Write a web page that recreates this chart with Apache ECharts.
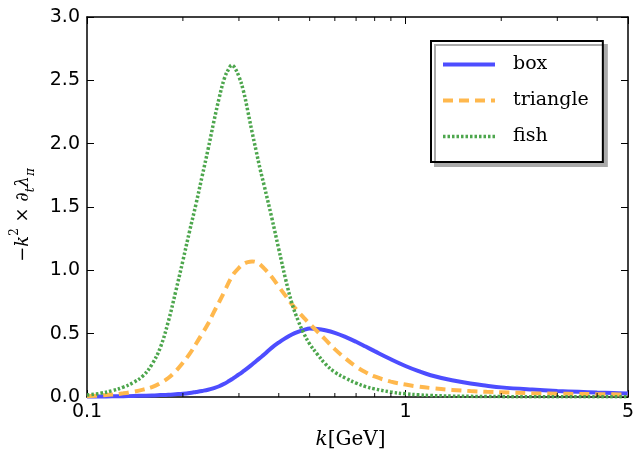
<!DOCTYPE html>
<html>
<head>
<meta charset="utf-8">
<script src="https://cdn.jsdelivr.net/npm/echarts@6/dist/echarts.min.js"></script>
<style>
html,body{margin:0;padding:0;background:#fff;}
#chart{width:641px;height:457px;}
</style>
</head>
<body>
<div id="chart"></div>
<script>
// k values (GeV) shared by all series
var kValues = [0.1,0.11,0.12,0.13,0.14,0.15,0.16,0.17,0.18,0.19,0.2,0.21,0.22,0.23,0.24,0.25,0.26,0.27,0.28,0.285,0.29,0.3,0.31,0.32,0.33,0.34,0.35,0.36,0.38,0.4,0.42,0.44,0.46,0.48,0.5,0.53,0.56,0.6,0.65,0.7,0.75,0.8,0.9,1.0,1.1,1.2,1.4,1.6,1.8,2.0,2.5,3.0,3.5,4.0,4.5,5.0];
var boxValues = [0.003,0.004,0.005,0.006,0.008,0.010,0.012,0.015,0.018,0.022,0.026,0.032,0.040,0.048,0.057,0.070,0.085,0.105,0.128,0.140,0.153,0.178,0.204,0.230,0.257,0.284,0.310,0.335,0.388,0.430,0.465,0.494,0.515,0.530,0.540,0.537,0.527,0.507,0.473,0.436,0.398,0.362,0.298,0.245,0.204,0.172,0.132,0.106,0.089,0.076,0.059,0.048,0.041,0.035,0.031,0.028];
var triangleValues = [0.005,0.012,0.019,0.029,0.042,0.058,0.078,0.110,0.150,0.205,0.270,0.340,0.420,0.500,0.578,0.668,0.750,0.832,0.915,0.950,0.978,1.020,1.050,1.065,1.070,1.065,1.045,1.015,0.950,0.872,0.800,0.733,0.676,0.625,0.578,0.515,0.455,0.378,0.302,0.240,0.195,0.162,0.121,0.098,0.082,0.071,0.056,0.047,0.041,0.037,0.030,0.026,0.024,0.022,0.021,0.020];
var fishValues = [0.015,0.029,0.050,0.078,0.115,0.168,0.258,0.392,0.595,0.835,1.075,1.310,1.525,1.745,1.955,2.170,2.360,2.515,2.600,2.620,2.605,2.530,2.415,2.255,2.090,1.940,1.795,1.670,1.420,1.170,0.935,0.740,0.605,0.500,0.420,0.335,0.262,0.196,0.148,0.110,0.082,0.064,0.039,0.025,0.017,0.012,0.007,0.005,0.004,0.003,0.002,0.0015,0.001,0.001,0.001,0.001];
var seriesNames = ['box','triangle','fish'];
var seriesColors = ['#4d4dff','#ffb84d','#4da64d'];
var yTicks = [0, 0.5, 1.0, 1.5, 2.0, 2.5, 3.0];
var minorTickValues = [0.2,0.3,0.4,0.5,0.6,0.7,0.8,0.9,2,3,4];

function pairs(vals){ return kValues.map(function(k,i){ return [k, vals[i]]; }); }

var chart = echarts.init(document.getElementById('chart'), null, {renderer:'canvas'});
var black = '#000';
var tickFont = {fontFamily:'DejaVu Sans', fontSize:19, color:black};
var lineStyles = [
  {color:seriesColors[0], width:4, type:'solid'},
  {color:seriesColors[1], width:4, type:[10,6]},
  {color:seriesColors[2], width:3.5, type:[2.5,2]}
];

var option = {
  backgroundColor:'#fff',
  animation:false,
  grid:{left:87, right:13, top:17, bottom:60, containLabel:false},
  legend:{
    data:seriesNames.map(function(n,i){ return {name:n, lineStyle:lineStyles[i]}; }),
    orient:'vertical',
    left:431, top:41,
    padding:[14,14,16,10],
    itemWidth:52, itemHeight:14, itemGap:17,
    backgroundColor:'#fff',
    borderColor:black, borderWidth:2,
    shadowColor:'#aaaaaa', shadowBlur:0, shadowOffsetX:4, shadowOffsetY:4,
    selectedMode:false,
    itemStyle:{opacity:0},
    textStyle:{fontFamily:'DejaVu Serif', fontSize:19, color:black, padding:[0,0,0,13]}
  },
  xAxis:[{
    type:'log', logBase:10, min:0.1, max:5,
    position:'bottom',
    name:'{i|k}{n|[GeV]}', nameLocation:'middle', nameGap:33,
    nameTextStyle:{fontFamily:'DejaVu Serif', fontSize:20, color:black, padding:[0,14,0,0],
      rich:{i:{fontFamily:'DejaVu Serif', fontStyle:'italic', fontSize:20, color:black},
            n:{fontFamily:'DejaVu Serif', fontSize:20, color:black}}},
    axisLine:{show:true, onZero:false, lineStyle:{color:black, width:1.5}},
    axisTick:{show:true, inside:true, length:7, lineStyle:{color:black, width:1}},
    axisLabel:Object.assign({margin:6, formatter:function(v){ return String(+(+v).toPrecision(3)); }}, tickFont),
    splitLine:{show:false}
  },{
    type:'log', logBase:10, min:0.1, max:5,
    position:'top',
    axisLine:{show:true, onZero:false, lineStyle:{color:black, width:1.5}},
    axisTick:{show:true, inside:true, length:7, lineStyle:{color:black, width:1}},
    axisLabel:{show:false},
    splitLine:{show:false}
  }],
  yAxis:[{
    type:'value', min:yTicks[0], max:yTicks[yTicks.length-1], interval:0.5,
    position:'left',
    name:'{n|−}{i|k}{sup|2}{n| × }{i|∂}{sub|t}{i|λ}{sub|π}',
    nameLocation:'middle', nameGap:50, nameRotate:90,
    nameTextStyle:{fontFamily:'DejaVu Serif', fontSize:18, color:black, padding:[0,16,0,0],
      rich:{
        n:{fontFamily:'DejaVu Serif', fontSize:18, color:black, lineHeight:28},
        i:{fontFamily:'DejaVu Serif', fontStyle:'italic', fontSize:18, color:black, lineHeight:28},
        sup:{fontFamily:'DejaVu Serif', fontSize:12, color:black, verticalAlign:'top', lineHeight:28, padding:[0,0,10,0]},
        sub:{fontFamily:'DejaVu Serif', fontStyle:'italic', fontSize:12, color:black, verticalAlign:'bottom', lineHeight:28, padding:[8,0,0,0]}
      }},
    axisLine:{show:true, onZero:false, lineStyle:{color:black, width:1.5}},
    axisTick:{show:true, inside:true, length:7, lineStyle:{color:black, width:1}},
    axisLabel:Object.assign({margin:7, formatter:function(v){ return (+v).toFixed(1); }}, tickFont),
    splitLine:{show:false}
  },{
    type:'value', min:yTicks[0], max:yTicks[yTicks.length-1], interval:0.5,
    position:'right',
    axisLine:{show:true, onZero:false, lineStyle:{color:black, width:1.5}},
    axisTick:{show:true, inside:true, length:7, lineStyle:{color:black, width:1}},
    axisLabel:{show:false},
    splitLine:{show:false}
  }],
  series:[
    {name:'box', type:'line', data:pairs(boxValues), smooth:0.4, symbol:'none', showSymbol:false,
      lineStyle:lineStyles[0], itemStyle:{color:seriesColors[0]}, z:3},
    {name:'triangle', type:'line', data:pairs(triangleValues), smooth:0.4, symbol:'none', showSymbol:false,
      lineStyle:lineStyles[1], itemStyle:{color:seriesColors[1]}, z:3},
    {name:'fish', type:'line', data:pairs(fishValues), smooth:0.4, symbol:'none', showSymbol:false,
      lineStyle:lineStyles[2], itemStyle:{color:seriesColors[2]}, z:3},
    {name:'minorBottom', type:'scatter', data:minorTickValues.map(function(v){return [v, yTicks[0]];}),
      symbol:'rect', symbolSize:[1.2,4], symbolOffset:[0,-2], itemStyle:{color:black}, silent:true, clip:false, z:5},
    {name:'minorTop', type:'scatter', data:minorTickValues.map(function(v){return [v, yTicks[yTicks.length-1]];}),
      symbol:'rect', symbolSize:[1.2,4], symbolOffset:[0,2], itemStyle:{color:black}, silent:true, clip:false, z:5}
  ]
};
chart.setOption(option);
</script>
</body>
</html>
